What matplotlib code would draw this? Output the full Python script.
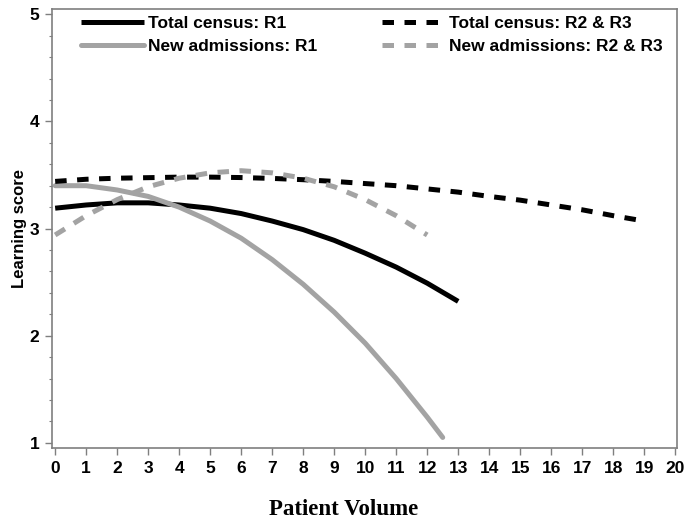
import matplotlib
matplotlib.use("Agg")
import matplotlib.pyplot as plt
from matplotlib.ticker import MultipleLocator

# Values
x_total_r1 = [0, 1, 2, 3, 4, 5, 6, 7, 8, 9, 10, 11, 12, 13]
y_total_r1 = [3.19, 3.22, 3.24, 3.24, 3.22, 3.19, 3.14, 3.07, 2.99, 2.89, 2.77, 2.64, 2.49, 2.32]

x_new_r1 = [0, 1, 2, 3, 4, 5, 6, 7, 8, 9, 10, 11, 12, 12.5]
y_new_r1 = [3.40, 3.40, 3.36, 3.30, 3.20, 3.07, 2.91, 2.71, 2.48, 2.22, 1.93, 1.60, 1.24, 1.05]

x_total_r23 = list(range(0, 20))
y_total_r23 = [3.44, 3.46, 3.47, 3.475, 3.48, 3.48, 3.476, 3.468, 3.456, 3.44,
               3.42, 3.40, 3.37, 3.34, 3.30, 3.265, 3.22, 3.175, 3.12, 3.07]

x_new_r23 = list(range(0, 13))
y_new_r23 = [2.94, 3.12, 3.27, 3.39, 3.47, 3.52, 3.54, 3.52, 3.47, 3.39, 3.27, 3.12, 2.94]

labels = ["Total census: R1", "New admissions: R1",
          "Total census: R2 & R3", "New admissions: R2 & R3"]
x_ticks = list(range(0, 21))
y_ticks = [1, 2, 3, 4, 5]

SANS = ["Liberation Sans", "DejaVu Sans"]
GRAY = "#a3a3a3"
FRAME = "#7f7f7f"

fig = plt.figure(figsize=(6.85, 5.26), dpi=100)
ax = fig.add_axes([0.076, 0.148, 0.912, 0.835])

lw = 3.6
dash = (2.3, 2.1)
ax.plot(x_total_r1, y_total_r1, color="black", lw=lw, label=labels[0],
        solid_capstyle="butt")
ax.plot(x_new_r1, y_new_r1, color=GRAY, lw=lw, label=labels[1],
        solid_capstyle="round")
ax.plot(x_total_r23, y_total_r23, color="black", lw=lw, dashes=dash, label=labels[2])
ax.plot(x_new_r23, y_new_r23, color=GRAY, lw=lw, dashes=dash, label=labels[3])

ax.set_xlim(-0.1, 20.05)
ax.set_ylim(0.95, 5.05)
ax.set_xticks(x_ticks)
ax.set_yticks(y_ticks)
ax.yaxis.set_minor_locator(MultipleLocator(0.2))

for spine in ax.spines.values():
    spine.set_color(FRAME)
    spine.set_linewidth(1.2)
ax.tick_params(axis="both", which="major", direction="out", length=5,
               width=1.0, color=FRAME, pad=4)
ax.tick_params(axis="y", which="minor", direction="out", length=2.5,
               width=0.8, color=FRAME)

for lab in ax.get_xticklabels() + ax.get_yticklabels():
    lab.set_family(SANS)
    lab.set_fontweight("bold")
    lab.set_fontsize(12.5)

ax.set_ylabel("Learning score", family=SANS, fontweight="bold", fontsize=12)
ax.yaxis.set_label_coords(-0.04, 0.5)
ax.set_xlabel("Patient Volume", family=["Liberation Serif", "DejaVu Serif"],
              fontweight="bold", fontsize=16.5)
ax.xaxis.set_label_coords(0.466, -0.115)

ax.legend(ncol=2, loc="upper left", bbox_to_anchor=(0.022, 1.02),
          frameon=False, handlelength=3.6, handletextpad=0.25,
          columnspacing=3.7, labelspacing=0.45,
          prop={"family": SANS, "weight": "bold", "size": 12.5})

fig.savefig("out.png", dpi=100)
